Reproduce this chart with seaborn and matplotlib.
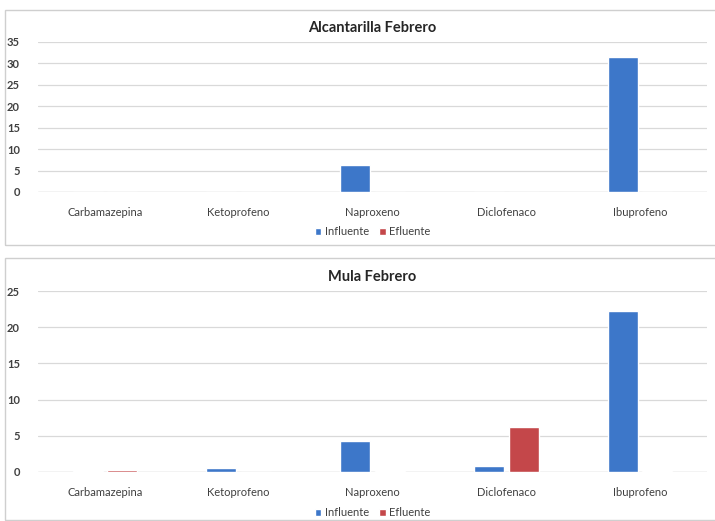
import pandas as pd
import matplotlib
matplotlib.use("Agg")
import matplotlib.pyplot as plt
from matplotlib.patches import Rectangle
import seaborn as sns

# data
farmacos = ["Carbamazepina", "Ketoprofeno", "Naproxeno", "Diclofenaco", "Ibuprofeno"]
series = ["Influente", "Efluente"]

alcantarilla_influente = [0.0, 0.0, 6.2, 0.0, 31.4]
alcantarilla_efluente = [0.0, 0.0, 0.0, 0.0, 0.0]

mula_influente = [0.1, 0.6, 4.3, 0.8, 22.3]
mula_efluente = [0.25, 0.05, 0.1, 6.2, 0.12]

titles = ["Alcantarilla Febrero", "Mula Febrero"]
y_ticks = [[0, 5, 10, 15, 20, 25, 30, 35], [0, 5, 10, 15, 20, 25]]

COLORS = {"Influente": "#3d77c9", "Efluente": "#c4474a"}
GRID = "#d9d9d9"
TEXT = "#404040"


def long_frame(influente, efluente):
    rows = []
    for name, vals in zip(series, [influente, efluente]):
        for f, v in zip(farmacos, vals):
            rows.append({"farmaco": f, "serie": name, "valor": v})
    return pd.DataFrame(rows)


def draw_panel(fig, rect, box, legend_y, df, title, ticks):
    # light frame around each chart, like the spreadsheet chart area
    fig.patches.append(Rectangle((box[0], box[1]), box[2], box[3],
                                 transform=fig.transFigure, fill=False,
                                 edgecolor="#cfcfcf", linewidth=1.0, zorder=0))
    ax = fig.add_axes(rect)
    sns.barplot(data=df, x="farmaco", y="valor", hue="serie", order=farmacos,
                hue_order=series, palette=COLORS, width=0.515, gap=0.13,
                saturation=1, errorbar=None, ax=ax)
    ax.set_ylim(0, ticks[-1])
    ax.set_yticks(ticks)
    ax.set_xlim(-0.5, len(farmacos) - 0.5)
    ax.grid(axis="y", color=GRID, linewidth=0.9)
    ax.set_axisbelow(True)
    for s in ax.spines.values():
        s.set_visible(False)
    ax.axhline(0, color=GRID, linewidth=1.0, zorder=0)
    ax.tick_params(axis="both", length=0, colors=TEXT, labelsize=8)
    ax.tick_params(axis="y", pad=13)
    ax.tick_params(axis="x", pad=11)
    for lab in ax.get_yticklabels():
        lab.set_fontweight("bold")
    ax.set_xlabel("")
    ax.set_ylabel("")
    ax.set_title(title, fontsize=10.5, fontweight="bold", color="#262626", pad=7)

    handles, labels = ax.get_legend_handles_labels()
    ax.get_legend().remove()
    fig.legend(handles, labels, loc="center",
               bbox_to_anchor=(rect[0] + rect[2] / 2, legend_y),
               bbox_transform=fig.transFigure,
               ncol=2, frameon=False, fontsize=8, handlelength=0.6,
               handleheight=0.6, handletextpad=0.3, columnspacing=0.9,
               labelcolor=TEXT)
    return ax


def main():
    sns.set_theme(style="white")
    plt.rcParams["font.family"] = ["Lato", "DejaVu Sans"]

    fig = plt.figure(figsize=(7.15, 5.21), dpi=100)
    fig.patch.set_facecolor("white")

    W, H = 715.0, 521.0
    # axes rectangles in figure fractions (from pixel measurements)
    top_rect = [38 / W, 1 - 192 / H, 669 / W, 150 / H]
    bot_rect = [38 / W, 1 - 472 / H, 669 / W, 181 / H]
    top_box = [5 / W, 1 - 245 / H, 712 / W, 235 / H]
    bot_box = [5 / W, 1 - 521 / H + 0.002, 712 / W, 262 / H]

    draw_panel(fig, top_rect, top_box, 1 - 232 / H,
               long_frame(alcantarilla_influente, alcantarilla_efluente),
               titles[0], y_ticks[0])
    draw_panel(fig, bot_rect, bot_box, 1 - 513 / H,
               long_frame(mula_influente, mula_efluente),
               titles[1], y_ticks[1])

    fig.savefig("out.png", dpi=100)
    plt.close(fig)


if __name__ == "__main__":
    main()
